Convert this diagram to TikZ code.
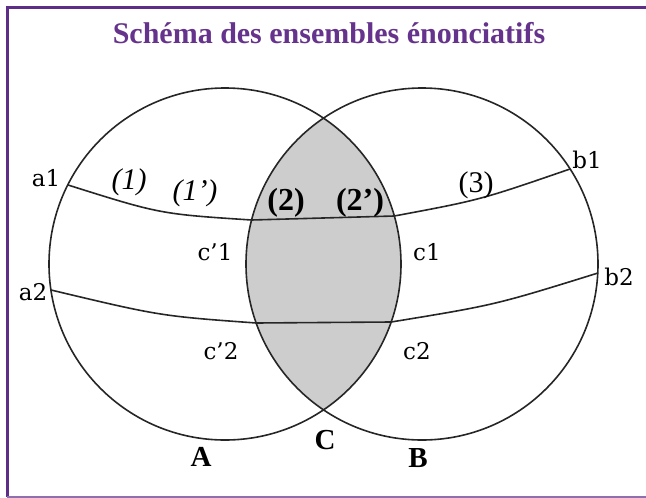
\documentclass[tikz,border=0pt]{standalone}
\usepackage{fontspec}
\setmainfont{DejaVu Serif}
\newfontfamily\timesfont{Liberation Serif}
\usetikzlibrary{positioning}
\definecolor{titlepurple}{HTML}{66338C}
\definecolor{framepurple}{HTML}{5E2D88}
\definecolor{framelight}{HTML}{8E6FB0}
\definecolor{lensgray}{HTML}{CDCDCD}
\definecolor{setink}{HTML}{262626}

\tikzset{
  setline/.style={setink,line width=1.6pt},
  ptlabel/.style={font=\fontsize{23}{25}\selectfont,inner sep=0pt},
  partlabel/.style={font=\timesfont\fontsize{30}{32}\selectfont,inner sep=0pt},
  partbold/.style={font=\timesfont\bfseries\fontsize{32}{34}\selectfont,inner sep=0pt},
  setname/.style={font=\timesfont\bfseries\fontsize{29}{32}\selectfont,inner sep=0pt}
}

\begin{document}
\begin{tikzpicture}[x=1pt,y=-1pt]
  \useasboundingbox (0,0) rectangle (646,498);

  % Frame and title
  \draw[framepurple,line width=3pt] (646,7)--(7,7)--(7,497);
  \draw[framelight,line width=1.2pt] (7,497)--(646,497);
  \node[font=\timesfont\bfseries\fontsize{30}{32}\selectfont,text=titlepurple]
    (title) at (329,33) {Schéma des ensembles énonciatifs};

  % The two sets and their common part
  \coordinate (A0) at (225,264);
  \coordinate (B0) at (422,264);
  \begin{scope}
    \clip (A0) circle[radius=176];
    \fill[lensgray] (B0) circle[radius=176];
  \end{scope}
  \draw[setline] (A0) circle[radius=176];
  \draw[setline] (B0) circle[radius=176];

  % Crossing lines
  \coordinate (a1) at (68,185);
  \coordinate (cp1) at (251.6,220);
  \coordinate (c1) at (394.3,216);
  \coordinate (b1) at (570,169);
  \coordinate (a2) at (51,290);
  \coordinate (cp2) at (256.2,323);
  \coordinate (c2) at (391.2,322);
  \coordinate (b2) at (598,273);
  \draw[setline] (a1) .. controls (160,214) .. (cp1) -- (c1)
    .. controls (480,200) .. (b1);
  \draw[setline] (a2) .. controls (160,316) .. (cp2) -- (c2)
    .. controls (495,305) .. (b2);

  % Point labels
  \foreach \n/\x/\y/\t in {a1/46/178/a1, a2/33/292/a2, b1/587/160/b1,
      b2/619/277/b2, cp1/215/252/c’1, c1/427/252/c1,
      cp2/221/351/c’2, c2/417/351/c2}{
    \node[ptlabel] (lab-\n) at (\x,\y) {\t};
  }

  % Parts
  \node[partlabel] (p1) at (129,182) {\itshape (1)};
  \node[partlabel] (p1b) at (195,193) {\itshape (1’)};
  \node[partbold] (p2) at (286,203) {(2)};
  \node[partbold] (p2b) at (360,203) {(2’)};
  \node[partlabel] (p3) at (476,185) {(3)};

  % Set names
  \node[setname] (nA) at (201,457) {A};
  \node[setname] (nC) at (325,440) {C};
  \node[setname] (nB) at (418,458) {B};
\end{tikzpicture}
\end{document}
